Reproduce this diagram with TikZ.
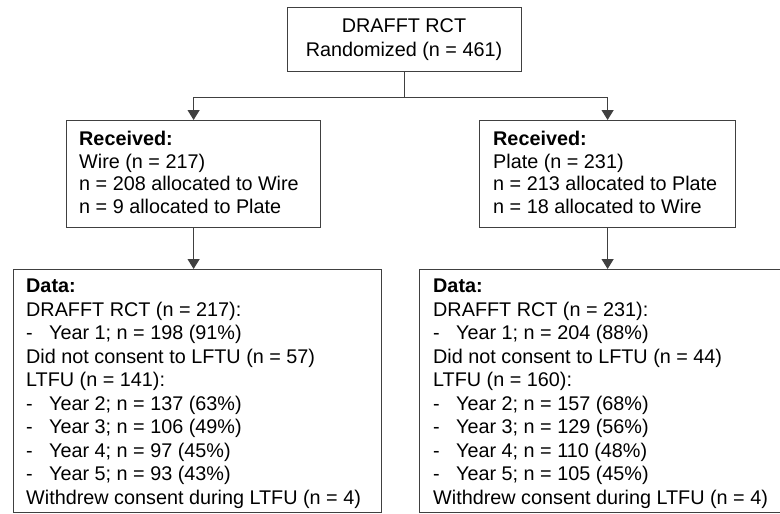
\documentclass[tikz,border=0pt]{standalone}
\usepackage{fontspec}
\setmainfont{Liberation Sans}
\usetikzlibrary{arrows.meta,positioning}

\newcommand{\dashitem}{\makebox[23pt][l]{-}}
\newcommand{\recfont}{\fontsize{19.8pt}{22.6pt}\selectfont}
\newcommand{\datfont}{\fontsize{19.8pt}{23.5pt}\selectfont}

\tikzset{
    box/.style={draw=black!75, line width=1.2pt, inner sep=0pt, anchor=north west},
    txt/.style={inner sep=0pt, align=left, anchor=north west, text=black},
    flow/.style={draw=black!75, line width=1.2pt, -{Triangle[width=12pt,length=10pt]}}
}

\begin{document}
\begin{tikzpicture}[x=1pt,y=-1pt]
    \useasboundingbox (0,0) rectangle (780,514);
    \clip (0,0) rectangle (780,514);

    %% boxes
    \node[box, minimum width=234pt, minimum height=64pt] (rct) at (287,7) {};
    \node[box, minimum width=254pt, minimum height=107pt] (recL) at (66,120) {};
    \node[box, minimum width=256pt, minimum height=107pt] (recR) at (479,120) {};
    \node[box, minimum width=368pt, minimum height=243pt] (datL) at (13,269) {};
    \node[box, minimum width=368pt, minimum height=243pt] (datR) at (419,269) {};

    %% texts
    \node[txt, anchor=north, align=center, font=\datfont] (rcttxt) at (404,18.8)
        {DRAFFT RCT\\Randomized (n = 461)};
    \node[txt, font=\recfont] (recLtxt) at (79,131)
        {\textbf{Received:}\\Wire (n = 217)\\n = 208 allocated to Wire\\n = 9 allocated to Plate};
    \node[txt, font=\recfont] (recRtxt) at (493,131)
        {\textbf{Received:}\\Plate (n = 231)\\n = 213 allocated to Plate\\n = 18 allocated to Wire};
    \node[txt, font=\datfont] (datLtxt) at (26,278.8)
        {\textbf{Data:}\\DRAFFT RCT (n = 217):\\\dashitem Year 1; n = 198 (91\%)\\
         Did not consent to LFTU (n = 57)\\LTFU (n = 141):\\
         \dashitem Year 2; n = 137 (63\%)\\\dashitem Year 3; n = 106 (49\%)\\
         \dashitem Year 4; n = 97 (45\%)\\\dashitem Year 5; n = 93 (43\%)\\
         Withdrew consent during LTFU (n = 4)};
    \node[txt, font=\datfont] (datRtxt) at (433,278.8)
        {\textbf{Data:}\\DRAFFT RCT (n = 231):\\\dashitem Year 1; n = 204 (88\%)\\
         Did not consent to LFTU (n = 44)\\LTFU (n = 160):\\
         \dashitem Year 2; n = 157 (68\%)\\\dashitem Year 3; n = 129 (56\%)\\
         \dashitem Year 4; n = 110 (48\%)\\\dashitem Year 5; n = 105 (45\%)\\
         Withdrew consent during LTFU (n = 4)};

    %% connectors
    \draw[flow] (rct.south) -- ++(0,25) -| (recL.north);
    \draw[flow] (rct.south) -- ++(0,25) -| (recR.north);
    \draw[flow] (recL.south) -- (recL.south |- datL.north);
    \draw[flow] (recR.south) -- (recR.south |- datR.north);
\end{tikzpicture}
\end{document}
